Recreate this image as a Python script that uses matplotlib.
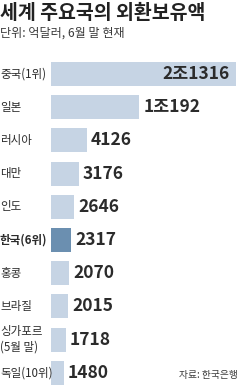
import matplotlib
matplotlib.use("Agg")
import matplotlib.pyplot as plt
from matplotlib.transforms import blended_transform_factory

plt.rcParams['font.family'] = ['Noto Sans CJK KR', 'DejaVu Sans']

# data (억달러)
countries = ['중국(1위)', '일본', '러시아', '대만', '인도', '한국(6위)', '홍콩', '브라질', '싱가포르\n(5월 말)', '독일(10위)']
reserves = [21316, 10192, 4126, 3176, 2646, 2317, 2070, 2015, 1718, 1480]
value_labels = ['2조1316', '1조192', '4126', '3176', '2646', '2317', '2070', '2015', '1718', '1480']
highlight = '한국(6위)'

W, H = 240, 386
fig = plt.figure(figsize=(W / 100, H / 100), dpi=100)
fig.patch.set_facecolor('white')

# bars start at x=51px, 21316 ends at 236px
x0, x1 = 51, 236
ax = fig.add_axes([x0 / W, 0, (W - x0) / W, 1])
ax.set_xlim(0, reserves[0] * (W - x0) / (x1 - x0))
# first bar centre at y=74px, spacing 33.2px
y_first, step = 74, 33.2
ax.set_ylim((H - y_first) / step, -y_first / step)
ax.axis('off')

light = '#c6d4e4'
dark = '#6b8fb0'
num_font = ['Liberation Sans Narrow', 'Noto Sans CJK KR']

trans = blended_transform_factory(fig.transFigure, ax.transData)
for i, (c, v, lab) in enumerate(zip(countries, reserves, value_labels)):
    ax.barh(i, v, height=24 / step, color=dark if c == highlight else light, linewidth=0)
    if i == 0:
        ax.annotate(lab, (v, i), xytext=(-6, 0), textcoords='offset pixels',
                    ha='right', va='center', fontsize=12.5, fontweight='bold',
                    color='#2b2b2b', family=num_font)
    else:
        ax.annotate(lab, (v, i), xytext=(4, 0), textcoords='offset pixels',
                    ha='left', va='center', fontsize=12.5, fontweight='bold',
                    color='#2b2b2b', family=num_font)
    ax.text(0, i, c, transform=trans, ha='left', va='center', fontsize=8.3,
            color='#2b2b2b', fontweight='bold' if c == highlight else 'normal',
            linespacing=1.25)

fig.text(0, 1 - 13 / H, '세계 주요국의 외환보유액', ha='left', va='center',
         fontsize=14, fontweight='bold', color='#222222')
fig.text(0, 1 - 33 / H, '단위: 억달러, 6월 말 현재', ha='left', va='center',
         fontsize=8.7, color='#3a3a3a')
fig.text(238 / W, 1 - 375 / H, '자료: 한국은행', ha='right', va='center',
         fontsize=7, color='#3a3a3a')

fig.savefig('out.png', dpi=100)
